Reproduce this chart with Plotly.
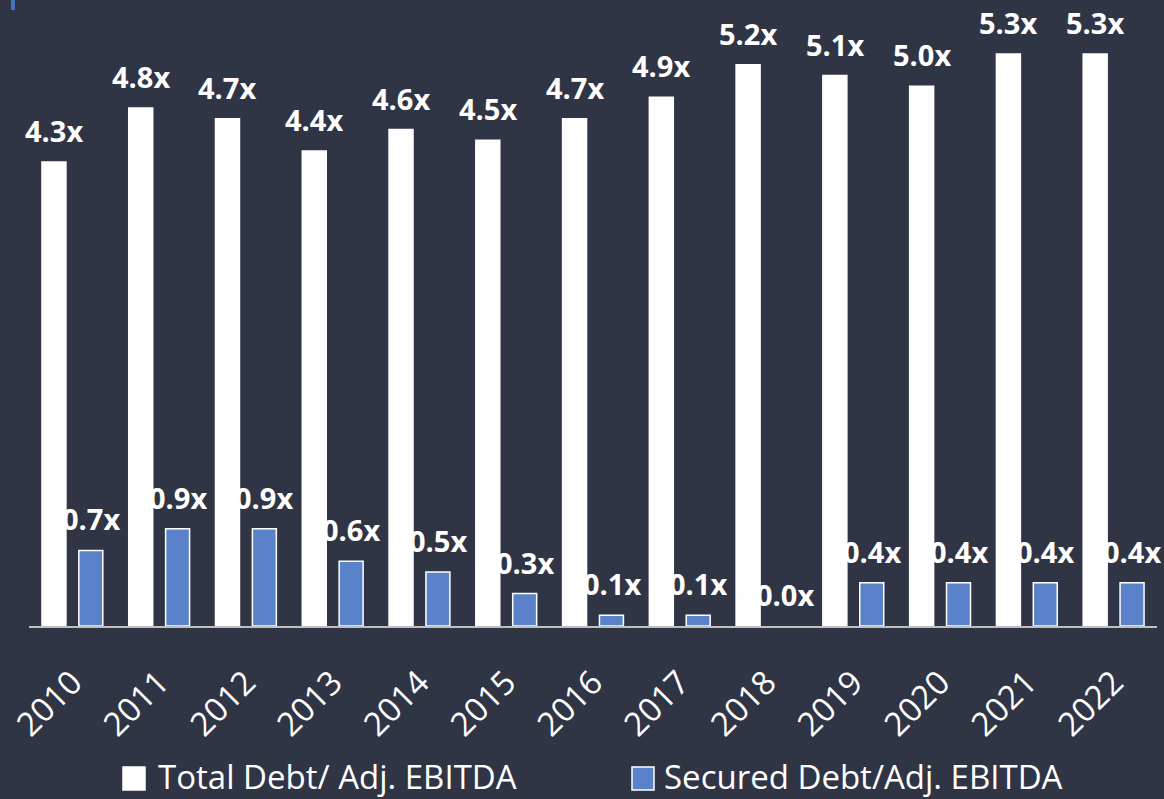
import plotly.graph_objects as go

years = ["2010", "2011", "2012", "2013", "2014", "2015", "2016",
         "2017", "2018", "2019", "2020", "2021", "2022"]
total_debt = [4.3, 4.8, 4.7, 4.4, 4.6, 4.5, 4.7, 4.9, 5.2, 5.1, 5.0, 5.3, 5.3]
secured_debt = [0.7, 0.9, 0.9, 0.6, 0.5, 0.3, 0.1, 0.1, 0.0, 0.4, 0.4, 0.4, 0.4]
series_names = ["Total Debt/ Adj. EBITDA", "Secured Debt/Adj. EBITDA"]

BG = "#303545"
WHITE = "#FFFFFF"
BLUE = "#5A82CA"
FONT = "Open Sans"

W, H = 1164, 799
ML, MR, MT, MB = 29, 7, 0, 173
PW, PH = W - ML - MR, H - MT - MB


def px(x):
    return (x - ML) / PW


def py(y):
    return (H - MB - y) / PH


def outline(vals):
    # no outline on zero-height bars
    return [1.5 if v > 0 else 0 for v in vals]


fig = go.Figure()
fig.add_trace(go.Bar(x=years, y=total_debt, name=series_names[0],
                     marker=dict(color=WHITE,
                                 line=dict(color=WHITE, width=outline(total_debt)))))
fig.add_trace(go.Bar(x=years, y=secured_debt, name=series_names[1],
                     marker=dict(color=BLUE,
                                 line=dict(color=WHITE, width=outline(secured_debt)))))

# value labels above each bar (category axis positions are indices)
annotations = []
for vals, shift in ((total_debt, -18.5), (secured_debt, 18.5)):
    for i, v in enumerate(vals):
        annotations.append(dict(
            x=i, y=v, xref="x", yref="y", text=f"{v:.1f}x",
            showarrow=False, xshift=shift, yshift=10, yanchor="bottom",
            font=dict(family=FONT, size=29, color=WHITE, weight="bold"),
        ))

# legend drawn as swatches + labels
shapes = []
legend_items = [(series_names[0], WHITE, 123, 156), (series_names[1], BLUE, 632, 662)]
for name, color, sx, tx in legend_items:
    shapes.append(dict(type="rect", xref="paper", yref="paper",
                       x0=px(sx), x1=px(sx + 22), y0=py(790), y1=py(767),
                       fillcolor=color, line=dict(color=WHITE, width=1.5)))
    annotations.append(dict(
        x=px(tx), y=py(776), xref="paper", yref="paper", text=name,
        showarrow=False, xanchor="left", yanchor="middle",
        font=dict(family=FONT, size=33, color=WHITE),
    ))

# small accent bar at top-left
shapes.append(dict(type="rect", xref="paper", yref="paper",
                   x0=px(11), x1=px(15), y0=py(10), y1=py(0),
                   fillcolor="#4472C4", line=dict(width=0)))

fig.update_layout(
    width=W, height=H,
    margin=dict(l=ML, r=MR, t=MT, b=MB),
    paper_bgcolor=BG, plot_bgcolor=BG,
    barmode="group", bargap=0.15, bargroupgap=0.35,
    showlegend=False,
    annotations=annotations, shapes=shapes,
    font=dict(family=FONT, color=WHITE),
)
fig.update_xaxes(
    type="category", tickangle=-45, range=[-0.5, len(years) - 0.5],
    tickfont=dict(family=FONT, size=33, color=WHITE),
    showline=True, linecolor="#BFBFBF", linewidth=2,
    showgrid=False, ticks="", ticklabelstandoff=22,
)
fig.update_yaxes(range=[0, 5.8], visible=False, showgrid=False, zeroline=False)

fig.write_html("out.html")
